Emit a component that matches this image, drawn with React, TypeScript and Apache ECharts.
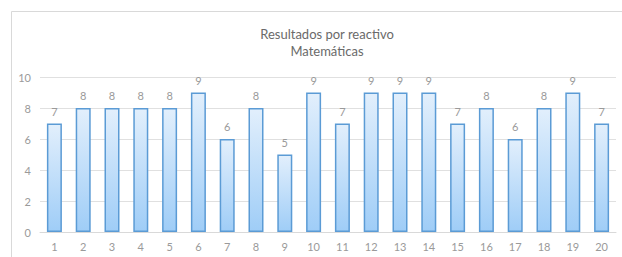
import React, { useEffect, useRef } from "react";
import * as echarts from "echarts";

const categories = ["1","2","3","4","5","6","7","8","9","10","11","12","13","14","15","16","17","18","19","20"];
const values = [7, 8, 8, 8, 8, 9, 6, 8, 5, 9, 7, 9, 9, 9, 7, 8, 6, 8, 9, 7];
const titleLines = ["Resultados por reactivo", "Matemáticas"];

export default function App() {
  const ref = useRef<HTMLDivElement>(null);
  useEffect(() => {
    document.body.style.margin = "0";
    const chart = echarts.init(ref.current!, undefined, { renderer: "svg" });
    const font = "Lato, 'Open Sans', sans-serif";
    chart.setOption({
      animation: false,
      backgroundColor: "#ffffff",
      title: {
        text: titleLines.join("\n"),
        left: 322,
        textAlign: "center",
        top: 20,
        textStyle: { fontSize: 13, fontWeight: "normal", color: "#6a6a6a", fontFamily: font, lineHeight: 17 },
      },
      graphic: [
        {
          type: "rect",
          shape: { x: 11.5, y: 11.5, width: 620, height: 260 },
          style: { fill: "none", stroke: "#d9d9d9", lineWidth: 1 },
          silent: true,
        },
      ],
      grid: { left: 40, right: 6, top: 77, bottom: 25 },
      xAxis: {
        type: "category",
        data: categories,
        axisLine: { lineStyle: { color: "#d9d9d9" } },
        axisTick: { show: false },
        axisLabel: { color: "#9a9a9a", fontSize: 11, fontFamily: font, margin: 9 },
      },
      yAxis: {
        type: "value",
        min: 0,
        max: 10,
        interval: 2,
        axisLine: { show: false },
        axisTick: { show: false },
        splitLine: { lineStyle: { color: "#e0e0e0" } },
        axisLabel: { color: "#9a9a9a", fontSize: 11, fontFamily: font, margin: 9 },
      },
      series: [
        {
          type: "bar",
          data: values,
          barWidth: 15,
          itemStyle: {
            color: new echarts.graphic.LinearGradient(0, 0, 0, 1, [
              { offset: 0, color: "#e2effc" },
              { offset: 1, color: "#9fcdf7" },
            ]),
            borderColor: "#5b9bd5",
            borderWidth: 1.5,
          },
          label: {
            show: true,
            position: "top",
            distance: 7,
            color: "#9a9a9a",
            fontSize: 11,
            fontFamily: font,
          },
        },
      ],
    });
    return () => chart.dispose();
  }, []);
  return <div ref={ref} style={{ width: 622, height: 257 }} />;
}
